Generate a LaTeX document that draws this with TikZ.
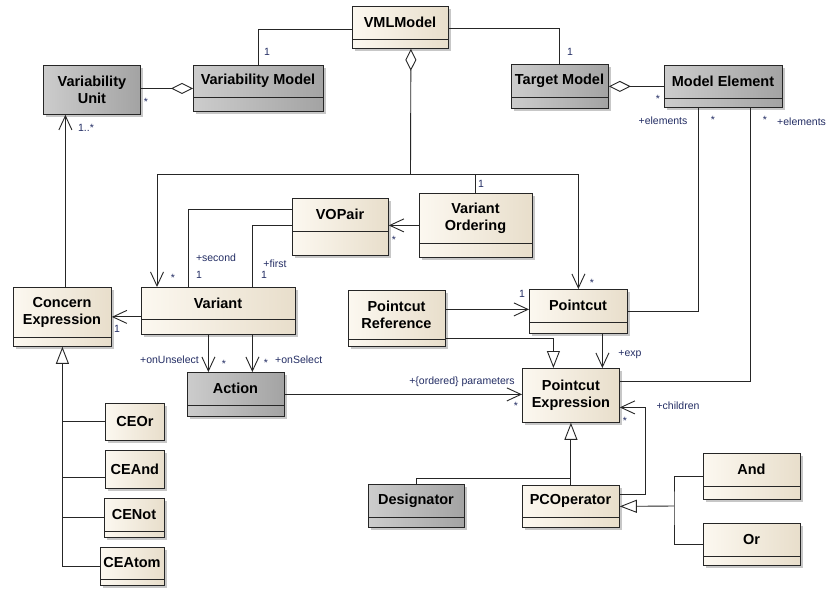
\documentclass[tikz,border=0pt]{standalone}
\usepackage{fontspec}
\setmainfont{Liberation Sans}
\usepackage{tikz}
\usetikzlibrary{arrows.meta, shadows}
\definecolor{clsL}{RGB}{252,248,240}
\definecolor{clsR}{RGB}{232,222,203}
\definecolor{absL}{RGB}{204,204,204}
\definecolor{absR}{RGB}{163,163,163}
\definecolor{lblBlue}{RGB}{35,45,100}
\tikzset{
	clsbox/.style  ={rectangle, draw=black!85, line width=0.8pt, inner sep=0pt, left color=clsL, right color=clsR,
		drop shadow={shadow xshift=3pt, shadow yshift=-3pt, fill=black, opacity=0.22}},
	absbox/.style  ={clsbox, left color=absL, right color=absR},
	clstitle/.style={font=\bfseries\fontsize{14.5}{17}\selectfont, align=center, inner sep=0pt},
	lbl/.style     ={font=\fontsize{10.5}{12}\selectfont, text=lblBlue, inner sep=0pt},
	conn/.style    ={line width=0.9pt, draw=black!85},
	assoc/.style   ={conn, -{Straight Barb[length=14pt, width=13pt]}},
	aggr/.style    ={conn, {Diamond[length=22pt, width=11pt, fill=white]}-},
	inherit/.style ={conn, -{Triangle[length=17pt, width=13pt, fill=white]}},
}
% class box: style, name, x1, y1, x2, y2, divider (0 = none), title
\newcommand{\umlclass}[8]{%
	\node[#1, anchor=north west, minimum width={(#5-#3)*1pt}, minimum height={(#6-#4)*1pt}] (#2) at (#3,#4) {};
	\ifnum#7>0
		\draw[conn] (#3,#7) -- (#5,#7);
		\node[clstitle] (#2-t) at ({(#3+#5)/2},{(#4+#7)/2}) {#8};
	\else
		\node[clstitle] (#2-t) at (#2.center) {#8};
	\fi
}
\begin{document}
\begin{tikzpicture}[x=1pt, y=-1pt]
	\useasboundingbox[fill=white] (0,0) rectangle (827,589);
	% classes
	\umlclass{clsbox}{vml}{352}{6}{448}{48}{39}{VMLModel}
	\umlclass{absbox}{vunit}{43}{65}{140}{114}{0}{Variability\\Unit}
	\umlclass{absbox}{vmod}{193}{65}{323}{111}{97}{Variability Model}
	\umlclass{absbox}{tmod}{511}{64}{608}{108}{97}{Target Model}
	\umlclass{absbox}{melem}{664}{65}{782}{107}{98}{Model Element}
	\umlclass{clsbox}{vopair}{292}{198}{388}{255}{231}{VOPair}
	\umlclass{clsbox}{vord}{419}{193}{532}{257}{243}{Variant\\Ordering}
	\umlclass{clsbox}{variant}{141}{287}{295}{334}{319}{Variant}
	\umlclass{clsbox}{concern}{13}{287}{111}{346}{337}{Concern\\Expression}
	\umlclass{clsbox}{pcref}{348}{290}{445}{346}{339}{Pointcut\\Reference}
	\umlclass{clsbox}{pcut}{529}{289}{627}{333}{322}{Pointcut}
	\umlclass{absbox}{action}{187}{372}{284}{416}{405}{Action}
	\umlclass{clsbox}{pcexpr}{522}{368}{619}{422}{0}{Pointcut\\Expression}
	\umlclass{clsbox}{ceor}{105}{403}{164}{440}{0}{CEOr}
	\umlclass{clsbox}{ceand}{105}{450}{164}{488}{0}{CEAnd}
	\umlclass{clsbox}{cenot}{104}{498}{164}{537}{531}{CENot}
	\umlclass{clsbox}{ceatom}{100}{547}{164}{585}{579}{CEAtom}
	\umlclass{absbox}{desig}{368}{484}{464}{527}{517}{Designator}
	\umlclass{clsbox}{pcop}{522}{485}{619}{527}{517}{PCOperator}
	\umlclass{clsbox}{andcls}{703}{453}{800}{499}{486}{And}
	\umlclass{clsbox}{orcls}{703}{523}{800}{565}{556}{Or}
	% VMLModel and its parts
	\draw[conn] ([yshift=-2pt]vml.west) -| (vmod.north);
	\draw[conn] ([yshift=-1pt]vml.east) -| (tmod.north);
	\draw[aggr] (vmod.west) -- (vmod.west -| vunit.east);
	\draw[aggr] (tmod.east) -- (tmod.east -| melem.west);
	\coordinate (vbus) at (410.5,174);
	\draw[aggr] ([xshift=10.5pt]vml.south) -- (vbus);
	\draw[assoc] (vbus) -| ([xshift=16pt]variant.north west);
	\draw[assoc] (vbus) -| (pcut.north);
	\draw[conn] (vbus -| vord.north) -- (vord.north);
	% variants
	\draw[conn] ([yshift=17.5pt]vopair.west) -| ([xshift=47pt]variant.north west);
	\draw[conn] ([yshift=1.5pt]vopair.west) -| ([xshift=111pt]variant.north west);
	\draw[assoc] (vord.west) -- (vord.west -| vopair.east);
	\coordinate (vce) at ([yshift=-6pt]variant.west);
	\draw[assoc] (vce) -- (vce -| concern.east);
	\coordinate (cup) at ([xshift=3pt]concern.north);
	\draw[assoc] (cup) -- (cup |- vunit.south);
	\coordinate (vun) at ([xshift=-10pt]variant.south);
	\draw[assoc] (vun) -- (vun |- action.north);
	\coordinate (vsel) at ([xshift=34pt]variant.south);
	\draw[assoc] (vsel) -- (vsel |- action.north);
	\draw[assoc] (action.east) -- (action.east -| pcexpr.west);
	% pointcuts
	\coordinate (prr) at ([yshift=9pt]pcref.east);
	\draw[assoc] (prr) -- (prr -| pcut.west);
	\coordinate (prg) at ([yshift=-20pt]pcref.east);
	\draw[inherit] (prg) -| ([xshift=-17.5pt]pcexpr.north);
	\coordinate (pce) at ([xshift=24pt]pcut.south);
	\draw[assoc] (pce) -- (pce |- pcexpr.north);
	\draw[conn] ([xshift=-25pt]melem.south) |- (pcut.east);
	\draw[conn] ([xshift=27pt]melem.south) |- ([yshift=14pt]pcexpr.east);
	\draw[inherit] (pcop.north) -- (pcexpr.south);
	\coordinate (pcjoin) at (570.5,478);
	\draw[conn] (desig.north) |- (pcjoin);
	\draw[assoc] ([yshift=12pt]pcop.east) -- ++(26,0) |- ([yshift=-12pt]pcexpr.east);
	\coordinate (aojoin) at (674,506);
	\draw[inherit] (aojoin) -- (pcop.east);
	\draw[conn] (andcls.west) -| (aojoin) |- (orcls.west);
	% concern expressions
	\draw[inherit] (ceatom.west -| concern.south) -- (concern.south);
	\draw[conn] (ceor.west) -- (ceor.west -| concern.south);
	\coordinate (cea) at ([yshift=-8pt]ceand.west);
	\draw[conn] (cea) -- (cea -| concern.south);
	\draw[conn] (cenot.west) -- (cenot.west -| concern.south);
	\draw[conn] (ceatom.west) -- (ceatom.west -| concern.south);
	% role names and multiplicities
	\node[lbl] (m1) at (267,52) {1};
	\node[lbl] (m2) at (570,52) {1};
	\node[lbl] (m3) at (146,102) {*};
	\node[lbl] (m4) at (658,99) {*};
	\node[lbl] (m5) at (173,278) {*};
	\node[lbl] (m6) at (592,283) {*};
	\node[lbl] (m7) at (481,184) {1};
	\node[lbl] (r1) at (216,258) {+second};
	\node[lbl] (m8) at (199,275) {1};
	\node[lbl] (r2) at (275,264) {+first};
	\node[lbl] (m9) at (264,275) {1};
	\node[lbl] (m10) at (394,240) {*};
	\node[lbl] (m11) at (117,329) {1};
	\node[lbl] (m12) at (86,128) {1..*};
	\node[lbl, anchor=east] (r3) at (199,360) {+onUnselect};
	\node[lbl] (m13) at (224,364) {*};
	\node[lbl] (m14) at (266,363) {*};
	\node[lbl, anchor=west] (r4) at (275,360) {+onSelect};
	\node[lbl] (r5) at (462,382) {+\{ordered\} parameters};
	\node[lbl] (m15) at (516,406) {*};
	\node[lbl] (m16) at (522,294) {1};
	\node[lbl] (r6) at (630,355) {+exp};
	\node[lbl] (r7) at (663,121) {+elements};
	\node[lbl] (m17) at (713,120) {*};
	\node[lbl] (m18) at (765,120) {*};
	\node[lbl, anchor=west] (r8) at (777,122) {+elements};
	\node[lbl] (r9) at (678,406) {+children};
	\node[lbl] (m19) at (625,421) {*};
\end{tikzpicture}
\end{document}
